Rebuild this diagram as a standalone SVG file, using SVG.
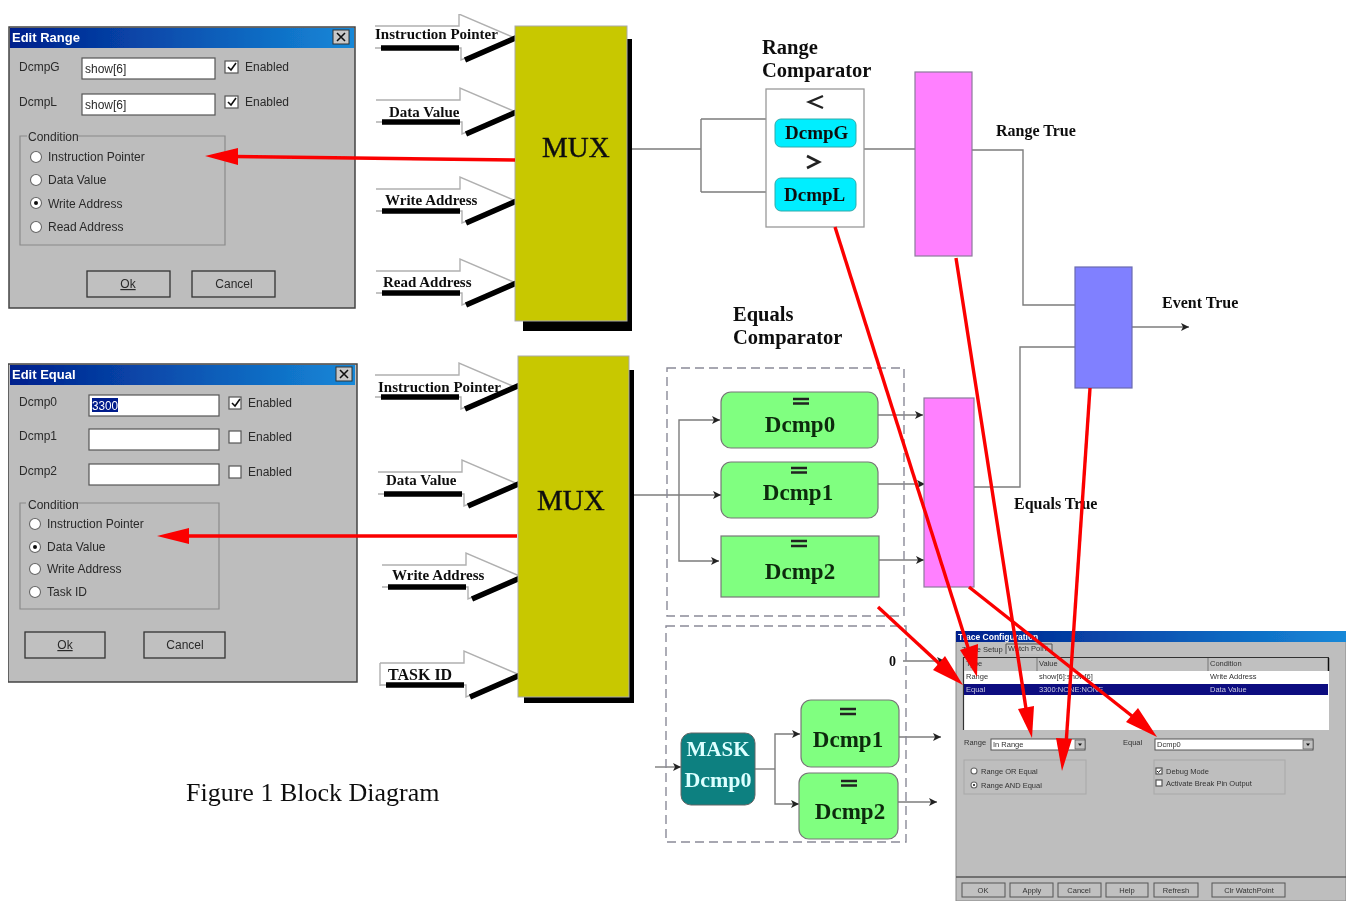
<svg xmlns="http://www.w3.org/2000/svg" width="1348" height="901" viewBox="0 0 1348 901">
<style>
.ui{font-family:"Liberation Sans",Arial,sans-serif;font-size:12px;fill:#2a2a2a}
.sm{font-family:"Liberation Sans",Arial,sans-serif;font-size:7.5px;fill:#333}
.ttl{font-family:"Liberation Sans",Arial,sans-serif;font-size:13px;font-weight:bold;fill:#fff}
.b{font-family:"Liberation Serif","Times New Roman",serif;font-weight:bold;fill:#111}
.lab{font-size:15px}
.cap{font-size:20.5px}
.cmp{font-size:23px;fill:#0c2a0c}
.mux{font-family:"Liberation Serif","Times New Roman",serif;font-size:29px;fill:#111;stroke:#111;stroke-width:.4}
.win{fill:#bdbdbd;stroke:#444;stroke-width:1.5}
.inp{fill:#fff;stroke:#555;stroke-width:1.2}
.chk{fill:#fff;stroke:#555;stroke-width:1.2}
.grp{fill:none;stroke:#8a8a8a;stroke-width:1.2}
.btn{fill:#c0c0c0;stroke:#333;stroke-width:1.3}
.rad{fill:#fff;stroke:#666;stroke-width:1.1}
.grn{fill:#80ff80;stroke:#777;stroke-width:1.2}
.mag{fill:#ff80ff;stroke:#8c7a9c;stroke-width:1.2}
.cy{fill:#00eeff;stroke:#3aa;stroke-width:1}
.ln{fill:none;stroke:#7c7c7c;stroke-width:1.4}
.dash{fill:none;stroke:#8a8a98;stroke-width:1.4;stroke-dasharray:9 5}
.red{fill:none;stroke:#fb0000;stroke-width:3.4}
.redh{fill:#fb0000}
.mx{fill:#c8c800;stroke:#aaa;stroke-width:1}
.sh{fill:#000}
.ao{fill:#fff;stroke:#b0b0b0;stroke-width:1.4}
.ak{fill:none;stroke:#000;stroke-width:5.5}
.eq{stroke:#222;stroke-width:2.4}
.tr{font-size:16px}
</style>
<defs>
<linearGradient id="tb" x1="0" x2="1" y1="0" y2="0"><stop offset="0" stop-color="#001f8c"/><stop offset="1" stop-color="#1588d8"/></linearGradient>
<marker id="ah" markerWidth="9" markerHeight="8" refX="8" refY="4" orient="auto" markerUnits="userSpaceOnUse"><path d="M0 0L8 4L0 8L2 4Z" fill="#222"/></marker>
<filter id="soft" x="0" y="0" width="100%" height="100%"><feGaussianBlur stdDeviation="0.45"/></filter>
<g id="fat"><path class="ao" d="M0 12H84V0L140 24L86 46V34H0" stroke-linejoin="miter"/><path class="ak" d="M6 34H84M90 46L145 22"/></g>
</defs>
<rect width="1348" height="901" fill="#fff"/>
<g filter="url(#soft)">

<g id="edit-range">
<rect class="win" x="9" y="27" width="346" height="281"/>
<rect x="10" y="28" width="344" height="20" fill="url(#tb)"/>
<text class="ttl" x="12" y="42">Edit Range</text>
<rect x="333" y="30" width="16" height="14" fill="#c8c8c8" stroke="#333"/>
<path d="M337 33l8 8M345 33l-8 8" stroke="#111" stroke-width="1.6"/>
<text class="ui" x="19" y="71">DcmpG</text>
<rect class="inp" x="82" y="58" width="133" height="21"/><text class="ui" x="85" y="73">show[6]</text>
<rect class="chk" x="225" y="61" width="13" height="12"/><path d="M228 67l3 3 5-7" fill="none" stroke="#111" stroke-width="1.6"/>
<text class="ui" x="245" y="71">Enabled</text>
<text class="ui" x="19" y="106">DcmpL</text>
<rect class="inp" x="82" y="94" width="133" height="21"/><text class="ui" x="85" y="109">show[6]</text>
<rect class="chk" x="225" y="96" width="13" height="12"/><path d="M228 102l3 3 5-7" fill="none" stroke="#111" stroke-width="1.6"/>
<text class="ui" x="245" y="106">Enabled</text>
<path class="grp" d="M27 136H20V245H225V136H78"/>
<text class="ui" x="28" y="141">Condition</text>
<circle class="rad" cx="36" cy="157" r="5.5"/><text class="ui" x="48" y="161">Instruction Pointer</text>
<circle class="rad" cx="36" cy="180" r="5.500"/><text class="ui" x="48" y="184">Data Value</text>
<circle class="rad" cx="36" cy="203" r="5.5"/><circle cx="36" cy="203" r="2" fill="#111"/><text class="ui" x="48" y="208">Write Address</text>
<circle class="rad" cx="36" cy="227" r="5.5"/><text class="ui" x="48" y="231">Read Address</text>
<rect class="btn" x="87" y="271" width="83" height="26" stroke-width="2"/><text class="ui" x="128" y="288" text-anchor="middle" text-decoration="underline">Ok</text>
<rect class="btn" x="192" y="271" width="83" height="26"/><text class="ui" x="234" y="288" text-anchor="middle">Cancel</text>
</g>

<g id="edit-equal">
<rect class="win" x="8" y="364" width="349" height="318"/>
<rect x="10" y="365" width="345" height="20" fill="url(#tb)"/>
<text class="ttl" x="12" y="379">Edit Equal</text>
<rect x="336" y="367" width="16" height="14" fill="#c8c8c8" stroke="#333"/>
<path d="M340 370l8 8M348 370l-8 8" stroke="#111" stroke-width="1.6"/>
<text class="ui" x="19" y="406">Dcmp0</text>
<rect class="inp" x="89" y="395" width="130" height="21"/><rect x="92" y="398" width="26" height="14" fill="#001a8c"/><text class="ui" x="92" y="410" style="fill:#fff" textLength="26" lengthAdjust="spacingAndGlyphs">3300</text>
<rect class="chk" x="229" y="397" width="12" height="12"/><path d="M232 403l3 3 5-7" fill="none" stroke="#111" stroke-width="1.6"/>
<text class="ui" x="248" y="407">Enabled</text>
<text class="ui" x="19" y="440">Dcmp1</text>
<rect class="inp" x="89" y="429" width="130" height="21"/>
<rect class="chk" x="229" y="431" width="12" height="12"/>
<text class="ui" x="248" y="441">Enabled</text>
<text class="ui" x="19" y="475">Dcmp2</text>
<rect class="inp" x="89" y="464" width="130" height="21"/>
<rect class="chk" x="229" y="466" width="12" height="12"/>
<text class="ui" x="248" y="476">Enabled</text>
<path class="grp" d="M26 503H20V609H219V503H76"/>
<text class="ui" x="28" y="509">Condition</text>
<circle class="rad" cx="35" cy="524" r="5.5"/><text class="ui" x="47" y="528">Instruction Pointer</text>
<circle class="rad" cx="35" cy="547" r="5.5"/><circle cx="35" cy="547" r="2" fill="#111"/><text class="ui" x="47" y="551">Data Value</text>
<circle class="rad" cx="35" cy="569" r="5.5"/><text class="ui" x="47" y="573">Write Address</text>
<circle class="rad" cx="35" cy="592" r="5.5"/><text class="ui" x="47" y="596">Task ID</text>
<rect class="btn" x="25" y="632" width="80" height="26" stroke-width="2"/><text class="ui" x="65" y="649" text-anchor="middle" text-decoration="underline">Ok</text>
<rect class="btn" x="144" y="632" width="81" height="26"/><text class="ui" x="185" y="649" text-anchor="middle">Cancel</text>
</g>

<g id="inputs-top">
<use href="#fat" x="375" y="14"/><text class="b lab" x="375" y="39">Instruction Pointer</text>
<use href="#fat" x="376" y="88"/><text class="b lab" x="389" y="117">Data Value</text>
<use href="#fat" x="376" y="177"/><text class="b lab" x="385" y="205">Write Address</text>
<use href="#fat" x="376" y="259"/><text class="b lab" x="383" y="287">Read Address</text>
</g>
<g id="mux-top">
<rect class="sh" x="523" y="39" width="109" height="292"/>
<rect class="mx" x="515" y="26" width="112" height="295"/>
<text class="mux" x="542" y="157">MUX</text>
</g>

<g id="inputs-bottom">
<use href="#fat" x="375" y="363"/><text class="b lab" x="378" y="392">Instruction Pointer</text>
<use href="#fat" x="378" y="460"/><text class="b lab" x="386" y="485">Data Value</text>
<use href="#fat" x="382" y="553"/><text class="b lab" x="392" y="580">Write Address</text>
<use href="#fat" x="380" y="651"/><path d="M380 663V686" stroke="#b0b0b0" stroke-width="1.4"/><text class="b lab" x="388" y="680" style="font-size:16px">TASK ID</text>
</g>
<g id="mux-bottom">
<rect class="sh" x="524" y="370" width="110" height="333"/>
<rect class="mx" x="518" y="356" width="111" height="341"/>
<text class="mux" x="537" y="510">MUX</text>
</g>

<g id="connectors">
<path class="ln" d="M632 149H701M701 119V192M701 119H766M701 192H766"/>
<path class="ln" d="M864 149H915M972 150H1023V305H1075"/>
<path class="ln" d="M1075 347H1020V487H974"/>
<path class="ln" marker-end="url(#ah)" d="M1132 327H1189"/>
<path class="ln" marker-end="url(#ah)" d="M634 495H721"/>
<path class="ln" marker-end="url(#ah)" d="M679 495V420H720"/>
<path class="ln" marker-end="url(#ah)" d="M679 495V561H719"/>
<path class="ln" marker-end="url(#ah)" d="M878 415H923"/>
<path class="ln" marker-end="url(#ah)" d="M878 484H925"/>
<path class="ln" marker-end="url(#ah)" d="M878 560H924"/>
<path class="ln" marker-end="url(#ah)" d="M903 661H945"/>
<path class="ln" marker-end="url(#ah)" d="M655 767H681"/>
<path class="ln" d="M755 769H775"/>
<path class="ln" marker-end="url(#ah)" d="M775 769V734H800"/>
<path class="ln" marker-end="url(#ah)" d="M775 769V804H799"/>
<path class="ln" marker-end="url(#ah)" d="M899 737H941"/>
<path class="ln" marker-end="url(#ah)" d="M898 802H937"/>
</g>

<g id="range-comparator">
<text class="b cap" x="762" y="54">Range</text>
<text class="b cap" x="762" y="77">Comparator</text>
<rect x="766" y="89" width="98" height="138" fill="#fff" stroke="#999" stroke-width="1.3"/>
<path d="M823 96L809 102L823 108" fill="none" stroke="#222" stroke-width="2.4"/>
<path d="M807 156L819 162L807 168" fill="none" stroke="#222" stroke-width="2.6"/>
<rect class="cy" x="775" y="119" width="81" height="28" rx="6"/>
<text class="b" x="785" y="139" style="font-size:19px">DcmpG</text>
<rect class="cy" x="775" y="178" width="81" height="33" rx="6"/>
<text class="b" x="784" y="201" style="font-size:19px">DcmpL</text>
</g>
<g id="range-and"><rect class="mag" x="915" y="72" width="57" height="184"/></g>
<g id="event-and"><rect x="1075" y="267" width="57" height="121" fill="#8080ff" stroke="#6a6ab0" stroke-width="1.2"/></g>
<text class="b tr" x="996" y="136">Range True</text>
<text class="b tr" x="1162" y="308">Event True</text>

<g id="equals-comparator">
<text class="b cap" x="733" y="321">Equals</text>
<text class="b cap" x="733" y="344">Comparator</text>
<rect class="dash" x="667" y="368" width="237" height="248"/>
<rect class="dash" x="666" y="626" width="240" height="216"/>
</g>
<g id="eq-dcmp0"><rect class="grn" x="721" y="392" width="157" height="56" rx="10"/><path class="eq" d="M793 399h16M793 403.500h16"/><text class="b cmp" x="800" y="432" text-anchor="middle">Dcmp0</text></g>
<g id="eq-dcmp1"><rect class="grn" x="721" y="462" width="157" height="56" rx="10"/><path class="eq" d="M791 468h16M791 472.500h16"/><text class="b cmp" x="798" y="500" text-anchor="middle">Dcmp1</text></g>
<g id="eq-dcmp2"><rect class="grn" x="721" y="536" width="158" height="61"/><path class="eq" d="M791 541h16M791 546h16"/><text class="b cmp" x="800" y="579" text-anchor="middle">Dcmp2</text></g>
<g id="equals-and"><rect class="mag" x="924" y="398" width="50" height="189"/></g>
<text class="b tr" x="1014" y="509">Equals True</text>
<text class="b" x="889" y="666" style="font-size:14px">0</text>
<g id="mask"><rect x="681" y="733" width="74" height="72" rx="10" fill="#078080" stroke="#666"/>
<text class="b" x="718" y="756" text-anchor="middle" style="font-size:21px;fill:#dff">MASK</text>
<text class="b" x="718" y="787" text-anchor="middle" style="font-size:22px;fill:#dff">Dcmp0</text></g>
<g id="mask-dcmp1"><rect class="grn" x="801" y="700" width="98" height="67" rx="10"/><path class="eq" d="M840 709h16M840 714h16"/><text class="b cmp" x="848" y="747" text-anchor="middle">Dcmp1</text></g>
<g id="mask-dcmp2"><rect class="grn" x="799" y="773" width="99" height="66" rx="10"/><path class="eq" d="M841 781h16M841 785.500h16"/><text class="b cmp" x="850" y="819" text-anchor="middle">Dcmp2</text></g>

<g id="trace-config">
<rect x="956" y="632" width="390" height="269" fill="#bebebe" stroke="#888"/>
<rect x="956" y="631" width="390" height="11" fill="url(#tb)"/>
<text class="sm" x="958" y="640" style="fill:#fff;font-weight:bold;font-size:8.5px">Trace Configuration</text>
<path d="M1006 654V644H1052V654" fill="#c4c4c4" stroke="#555"/>
<text class="sm" x="962" y="652">Trace Setup</text>
<text class="sm" x="1008" y="651">Watch Point</text>
<rect x="963" y="657" width="366" height="73" fill="#fff"/>
<path d="M963.500 730V657.500H1329" fill="none" stroke="#333" stroke-width="1.2"/>
<rect x="964" y="658" width="364" height="13" fill="#c0c0c0"/>
<path d="M1037 658V671M1208 658V671" stroke="#777"/>
<path d="M1328.500 658V671" stroke="#111" stroke-width="1.5"/>
<text class="sm" x="966" y="666">Type</text><text class="sm" x="1039" y="666">Value</text><text class="sm" x="1210" y="666">Condition</text>
<text class="sm" x="966" y="679">Range</text><text class="sm" x="1039" y="679">show[6]:show[6]</text><text class="sm" x="1210" y="679">Write Address</text>
<rect x="964" y="684" width="364" height="11" fill="#0a0a80"/>
<text class="sm" x="966" y="692" style="fill:#ccd">Equal</text><text class="sm" x="1039" y="692" style="fill:#ccd">3300:NONE:NONE</text><text class="sm" x="1210" y="692" style="fill:#ccd">Data Value</text>
<text class="sm" x="964" y="745">Range</text>
<rect x="991" y="739" width="94" height="11" fill="#fff" stroke="#555"/>
<text class="sm" x="993" y="747">In Range</text>
<rect x="1075" y="740" width="10" height="9" fill="#c0c0c0" stroke="#444" stroke-width=".6"/><path d="M1078 743.500h4l-2 2.500z" fill="#111"/>
<text class="sm" x="1123" y="745">Equal</text>
<rect x="1155" y="739" width="158" height="11" fill="#fff" stroke="#555"/>
<text class="sm" x="1157" y="747">Dcmp0</text>
<rect x="1303" y="740" width="10" height="9" fill="#c0c0c0" stroke="#444" stroke-width=".6"/><path d="M1306 743.500h4l-2 2.500z" fill="#111"/>
<rect x="964" y="760" width="122" height="34" fill="none" stroke="#a8a8a8"/>
<rect x="1154" y="760" width="131" height="34" fill="none" stroke="#a8a8a8"/>
<circle class="rad" cx="974" cy="771" r="3"/><text class="sm" x="981" y="774">Range OR Equal</text>
<circle class="rad" cx="974" cy="785" r="3"/><circle cx="974" cy="785" r="1" fill="#111"/><text class="sm" x="981" y="788">Range AND Equal</text>
<rect class="chk" x="1156" y="768" width="6" height="6" stroke-width=".7"/><path d="M1157 771l1.500 1.500 2.500-3" fill="none" stroke="#111"/>
<text class="sm" x="1166" y="774">Debug Mode</text>
<rect class="chk" x="1156" y="780" width="6" height="6" stroke-width=".7"/>
<text class="sm" x="1166" y="786">Activate Break Pin Output</text>
<path d="M956 877H1346" stroke="#555" stroke-width="1.4"/>
<g fill="#c0c0c0" stroke="#555">
<rect x="962" y="883" width="43" height="14"/><rect x="1010" y="883" width="43" height="14"/><rect x="1058" y="883" width="43" height="14"/><rect x="1106" y="883" width="42" height="14"/><rect x="1154" y="883" width="44" height="14"/><rect x="1212" y="883" width="73" height="14"/>
</g>
<g text-anchor="middle">
<text class="sm" x="983" y="893">OK</text><text class="sm" x="1032" y="893">Apply</text><text class="sm" x="1079" y="893">Cancel</text><text class="sm" x="1127" y="893">Help</text><text class="sm" x="1176" y="893">Refresh</text><text class="sm" x="1249" y="893">Clr WatchPoint</text>
</g>
</g>
<text x="186" y="801" style="font-family:'Liberation Serif','Times New Roman',serif;font-size:26px;fill:#111">Figure 1 Block Diagram</text>

<g id="red-arrows">
<path class="red" d="M515 160L235 156.500"/><path class="redh" d="M205 156L238 148V165Z"/>
<path class="red" d="M517 536H187"/><path class="redh" d="M157 536L189 528V544Z"/>
<path class="red" d="M835 227L972 660"/><path class="redh" d="M977 677L960 650L978 644Z"/>
<path class="red" d="M956 258L1027 715"/><path class="redh" d="M1032 738L1018 709L1034 706Z"/>
<path class="red" d="M1090 388L1066 745"/><path class="redh" d="M1062 771L1056 738L1072 739Z"/>
<path class="red" d="M969 587L1132 716"/><path class="redh" d="M1157 737L1126 722L1138 708Z"/>
<path class="red" d="M878 607L945 669"/><path class="redh" d="M963 685L933 670L945 656Z"/>
</g>
</g>
</svg>
